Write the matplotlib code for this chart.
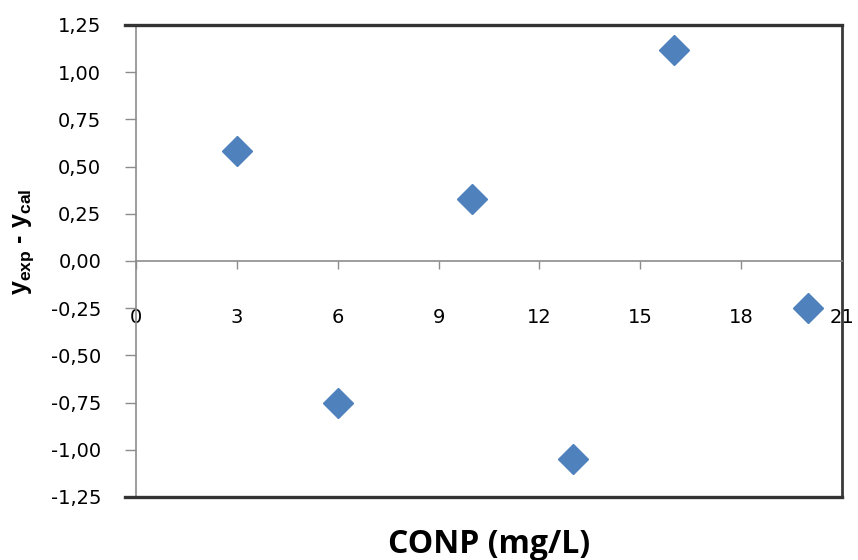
import matplotlib
matplotlib.use("Agg")
import matplotlib.pyplot as plt

# dados: concentração (mg/L) e resíduo y_exp - y_cal
conc = [3, 6, 10, 13, 16, 20]
residuo = [0.58, -0.75, 0.33, -1.05, 1.12, -0.25]

xticks = [0, 3, 6, 9, 12, 15, 18, 21]
yticks = [1.25, 1.00, 0.75, 0.50, 0.25, 0.00, -0.25, -0.50, -0.75, -1.00, -1.25]
ytick_labels = ["1,25", "1,00", "0,75", "0,50", "0,25", "0,00",
                "-0,25", "-0,50", "-0,75", "-1,00", "-1,25"]

plt.rcParams["mathtext.fontset"] = "custom"
plt.rcParams["mathtext.bf"] = "Liberation Sans:bold"
plt.rcParams["mathtext.rm"] = "Liberation Sans:bold"

fig = plt.figure(figsize=(8.58, 5.6), dpi=100)
ax = fig.add_axes([0.1585, 0.1125, 0.8229, 0.8429])

ax.plot(conc, residuo, linestyle="none", marker="D", markersize=15.5,
        color="#4F81BD", markeredgecolor="#4F81BD", zorder=5)

ax.set_xlim(0, 21)
ax.set_ylim(-1.25, 1.25)

# eixo x passa pelo zero, moldura escura em volta
ax.spines["bottom"].set_position(("data", 0))
ax.spines["bottom"].set_color("#8c8c8c")
ax.spines["bottom"].set_linewidth(1.2)
ax.spines["left"].set_color("#8c8c8c")
ax.spines["left"].set_linewidth(1.2)
ax.spines["top"].set_visible(False)
ax.spines["right"].set_color("#3a3a3a")
ax.spines["right"].set_linewidth(2)
for yy in [-1.25, 1.25]:
    ax.plot([-0.33, 21], [yy, yy], color="#333333", linewidth=2.4, clip_on=False, zorder=6)

ax.set_xticks(xticks)
ax.set_xticklabels([str(t) for t in xticks], fontname="DejaVu Sans", fontsize=14)
ax.set_yticks(yticks)
ax.set_yticklabels(ytick_labels, fontname="DejaVu Sans", fontsize=14)
ax.tick_params(axis="x", direction="out", length=6, width=1, color="#8c8c8c", pad=28)
ax.tick_params(axis="y", direction="out", length=8, width=1, color="#8c8c8c", pad=17)

ax.set_xlabel("CONP (mg/L)", fontname="Open Sans", fontweight="bold", fontsize=23)
ax.xaxis.set_label_coords(0.5, -0.065)
ax.set_ylabel(r"$\mathbf{y_{exp}}$ - $\mathbf{y_{cal}}$", fontname="Liberation Sans",
              fontweight="bold", fontsize=18)
ax.yaxis.set_label_coords(-0.142, 0.54)

fig.savefig("out.png", dpi=100)
